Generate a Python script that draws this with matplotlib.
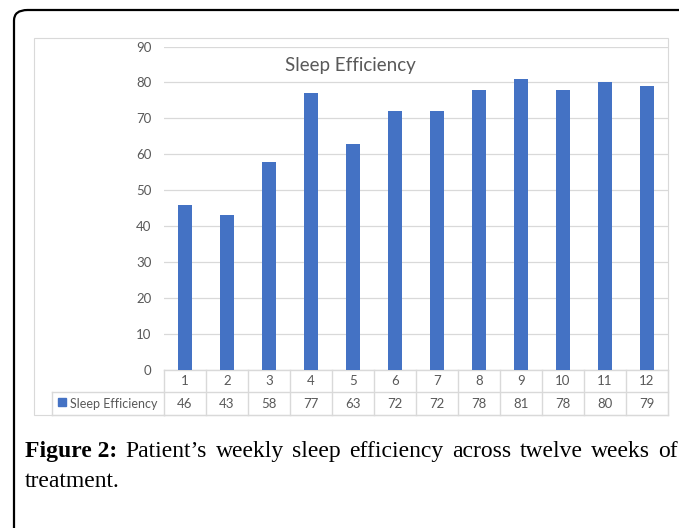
import matplotlib
matplotlib.use("Agg")
from matplotlib import pyplot as plt
from matplotlib.patches import FancyBboxPatch, Rectangle
from matplotlib.transforms import blended_transform_factory

weeks = ['1', '2', '3', '4', '5', '6', '7', '8', '9', '10', '11', '12']
efficiency = [46, 43, 58, 77, 63, 72, 72, 78, 81, 78, 80, 79]
yticks = [0, 10, 20, 30, 40, 50, 60, 70, 80, 90]
series_name = 'Sleep Efficiency'
caption_bold = 'Figure 2:'
caption_line1 = ['Patient’s', 'weekly', 'sleep', 'efficiency', 'across', 'twelve', 'weeks', 'of']
caption_line2 = 'treatment.'

W, H = 679, 528
blue = '#4472C4'
grey_txt = '#595959'
grid_c = '#D9D9D9'
sans = 'Lato'


def fx(px):
    return px / W


def fy(py):
    return 1 - py / H


fig = plt.figure(figsize=(W / 100, H / 100), dpi=100)

# outer rounded frame of the figure box
frame = FancyBboxPatch((fx(14), fy(560)), fx(700), fy(10) - fy(560),
                       boxstyle='round,pad=0,rounding_size=0.02',
                       transform=fig.transFigure, fill=False, ec='black', lw=1.6)
fig.patches.append(frame)

# chart area border
fig.patches.append(Rectangle((fx(34), fy(415)), fx(668 - 34), fy(38) - fy(415),
                             transform=fig.transFigure, fill=False, ec='#D9D9D9', lw=0.8))

left, right, top, bottom = 164, 668, 46.5, 370
ax = fig.add_axes([fx(left), fy(bottom), fx(right - left), fy(top) - fy(bottom)])

x = list(range(1, len(weeks) + 1))
ax.bar(x, efficiency, width=0.31, color=blue, zorder=3)
ax.set_xlim(0.5, len(weeks) + 0.5)
ax.set_ylim(0, 90)
ax.set_yticks(yticks)
ax.set_yticklabels([str(v) for v in yticks], color=grey_txt, fontsize=9.5, family=sans)
ax.tick_params(axis='y', length=0, pad=9)
ax.set_xticks([])
ax.grid(axis='y', color=grid_c, lw=0.9, zorder=0)
for s in ax.spines.values():
    s.set_visible(False)

fig.text(fx(350), fy(65), 'Sleep Efficiency', ha='center', va='center',
         fontsize=13.5, color=grey_txt, family=sans)

# data table under the plot
tr = blended_transform_factory(ax.transData, ax.transAxes)
ph = bottom - top
r1 = -(392 - bottom) / ph
r2 = -(415 - bottom) / ph
kw = dict(transform=tr, clip_on=False, color=grid_c, lw=1.0)
ax.plot([0.5, len(weeks) + 0.5], [0, 0], **kw)
ax.plot([0.5, len(weeks) + 0.5], [r1, r1], **kw)
ax.plot([0.5, len(weeks) + 0.5], [r2, r2], **kw)
for xv in [i + 0.5 for i in range(len(weeks) + 1)]:
    ax.plot([xv, xv], [0, r2], **kw)
# legend cell
figkw = dict(transform=fig.transFigure, color=grid_c, lw=1.0)
fig.add_artist(plt.Line2D([fx(52), fx(left)], [fy(392), fy(392)], **figkw))
fig.add_artist(plt.Line2D([fx(52), fx(left)], [fy(415), fy(415)], **figkw))
fig.add_artist(plt.Line2D([fx(52), fx(52)], [fy(392), fy(415)], **figkw))

for xi, w, v in zip(x, weeks, efficiency):
    ax.text(xi, (0 + r1) / 2, w, transform=tr, ha='center', va='center',
            fontsize=9.5, color=grey_txt, family=sans)
    ax.text(xi, (r1 + r2) / 2, str(v), transform=tr, ha='center', va='center',
            fontsize=9.5, color=grey_txt, family=sans)

fig.patches.append(Rectangle((fx(58), fy(406)), fx(8), fy(398) - fy(406),
                             transform=fig.transFigure, color=blue))
fig.text(fx(70), fy(403.5), series_name, ha='left', va='center',
         fontsize=9, color=grey_txt, family=sans)

# caption, first line justified between x=25 and x=678
serif = 'Liberation Serif'
fsz = 17
y1, y2 = fy(457), fy(487)
words = [fig.text(0, y1, caption_bold, fontsize=fsz, family=serif, weight='bold')]
words += [fig.text(0, y1, wd, fontsize=fsz, family=serif) for wd in caption_line1]
r = fig.canvas.get_renderer()
widths = [t.get_window_extent(r).width for t in words]
gap = (678 - 25 - sum(widths)) / (len(words) - 1)
xpos = 25
for t, wd in zip(words, widths):
    t.set_x(fx(xpos))
    xpos += wd + gap
fig.text(fx(25), y2, caption_line2, fontsize=fsz, family=serif)

fig.savefig('out.png', dpi=100)
